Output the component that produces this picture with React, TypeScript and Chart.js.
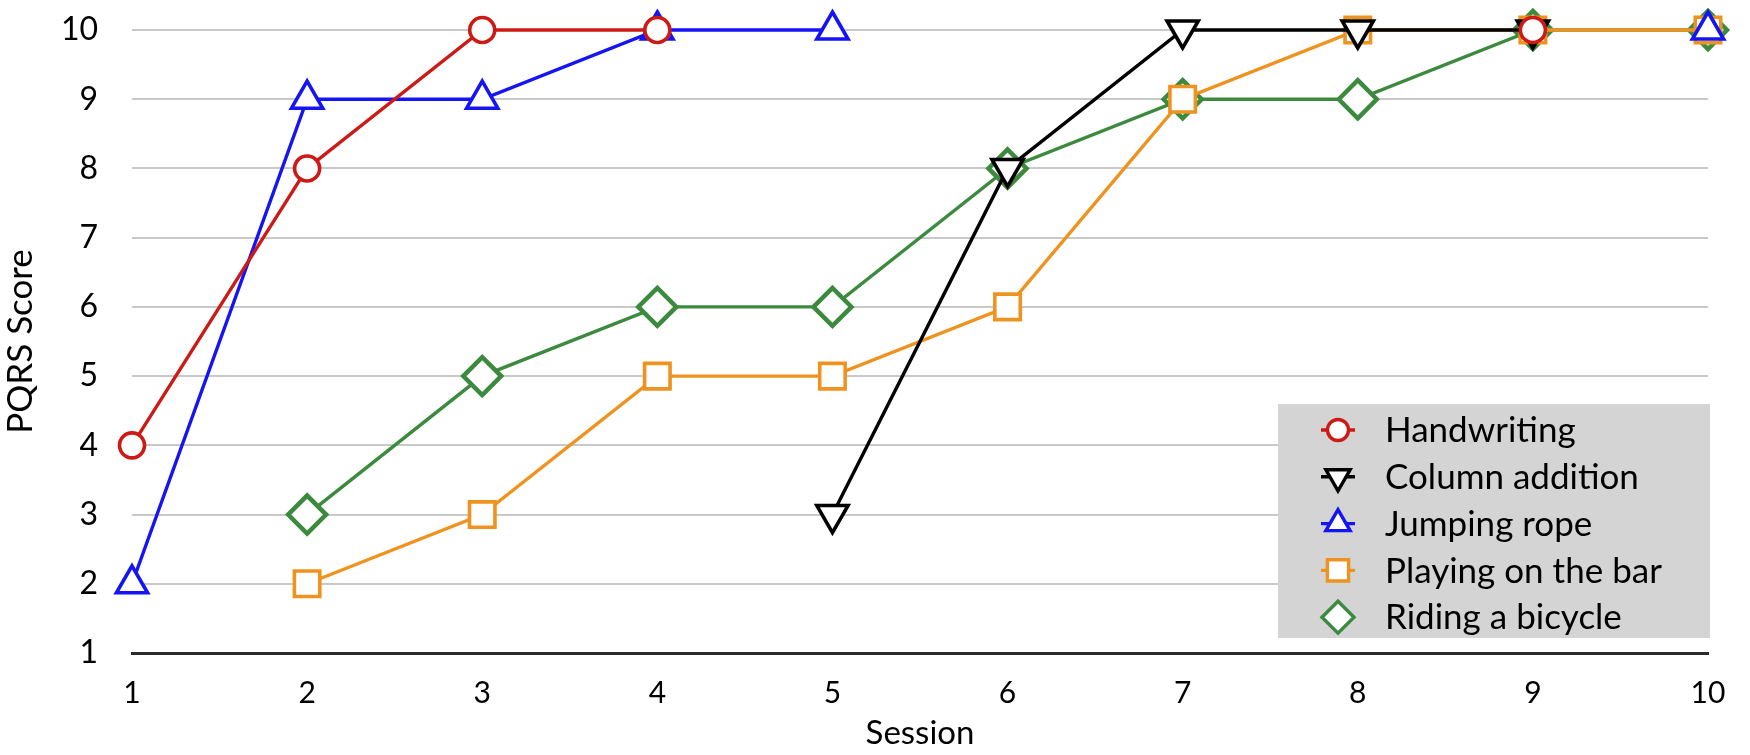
import React, { useEffect, useRef } from 'react';
import { Chart, registerables } from 'chart.js';

Chart.register(...registerables);

const sessions = ['1', '2', '3', '4', '5', '6', '7', '8', '9', '10'];
const handwriting = [4, 8, 10, 10, null, null, null, null, 10, null];
const columnAddition = [null, null, null, null, 3, 8, 10, 10, 10, null];
const jumpingRope = [2, 9, 9, 10, 10, null, null, null, null, 10];
const playingOnBar = [null, 2, 3, 5, 5, 6, 9, 10, 10, 10];
const ridingBicycle = [null, 3, 5, 6, 6, 8, 9, 9, 10, 10];
const seriesNames = ['Handwriting', 'Column addition', 'Jumping rope', 'Playing on the bar', 'Riding a bicycle'];
const seriesColors = ['#cc1a16', '#000000', '#1414f5', '#ef9320', '#3c8a3e'];
const yMin = 1;
const yMax = 10;

const FONT = 'Lato, "Open Sans", sans-serif';

function drawMarker(ctx: CanvasRenderingContext2D, style: string, rotation: number, x: number, y: number, r: number) {
  ctx.beginPath();
  if (style === 'circle') {
    ctx.arc(x, y, r, 0, Math.PI * 2);
  } else if (style === 'triangle') {
    const base = rotation === 180 ? Math.PI : 0;
    for (let i = 0; i < 3; i++) {
      const a = base + (i * 2 * Math.PI) / 3;
      const px = x + Math.sin(a) * r;
      const py = y - Math.cos(a) * r;
      if (i === 0) ctx.moveTo(px, py);
      else ctx.lineTo(px, py);
    }
    ctx.closePath();
  } else if (style === 'rect') {
    const s = r * Math.SQRT1_2;
    ctx.rect(x - s, y - s, 2 * s, 2 * s);
  } else if (style === 'rectRot') {
    ctx.moveTo(x - r, y);
    ctx.lineTo(x, y - r);
    ctx.lineTo(x + r, y);
    ctx.lineTo(x, y + r);
    ctx.closePath();
  }
  ctx.fillStyle = '#ffffff';
  ctx.fill();
  ctx.stroke();
}

const boxLegend = {
  id: 'boxLegend',
  afterDraw(chart: any) {
    const ctx: CanvasRenderingContext2D = chart.ctx;
    ctx.save();
    const x0 = 1278;
    const y0 = 404;
    const w = 432;
    const h = 234;
    ctx.fillStyle = '#d4d4d4';
    ctx.fillRect(x0, y0, w, h);
    const legendSizes = [10.5, 14, 14, 15, 16];
    chart.data.datasets.forEach((ds: any, i: number) => {
      const cy = 430 + i * 46.8;
      const cx = 1338;
      ctx.strokeStyle = ds.borderColor;
      ctx.lineWidth = 3.4;
      ctx.beginPath();
      ctx.moveTo(cx - 17, cy);
      ctx.lineTo(cx + 17, cy);
      ctx.stroke();
      drawMarker(ctx, ds.pointStyle, ds.pointRotation || 0, cx, cy, legendSizes[i]);
      ctx.fillStyle = '#000000';
      ctx.font = `35px ${FONT}`;
      ctx.textBaseline = 'middle';
      ctx.textAlign = 'left';
      ctx.fillText(ds.label, 1385, cy + 1);
    });
    ctx.restore();
  },
};

export default function App() {
  const canvasRef = useRef<HTMLCanvasElement | null>(null);

  useEffect(() => {
    if (!canvasRef.current) return;
    const common = {
      borderWidth: 3.4,
      pointBorderWidth: 3.6,
      pointBackgroundColor: '#ffffff',
      spanGaps: false,
      clip: false as any,
      tension: 0,
    };
    const chart = new Chart(canvasRef.current, {
      type: 'line',
      data: {
        labels: sessions,
        datasets: [
          { ...common, label: seriesNames[0], data: handwriting, borderColor: seriesColors[0], pointBorderColor: seriesColors[0], pointStyle: 'circle', pointRadius: 12.5 },
          { ...common, label: seriesNames[1], data: columnAddition, borderColor: seriesColors[1], pointBorderColor: seriesColors[1], pointStyle: 'triangle', pointRotation: 180, pointRadius: 18 },
          { ...common, label: seriesNames[2], data: jumpingRope, borderColor: seriesColors[2], pointBorderColor: seriesColors[2], pointStyle: 'triangle', pointRadius: 18 },
          { ...common, label: seriesNames[3], data: playingOnBar, borderColor: seriesColors[3], pointBorderColor: seriesColors[3], pointStyle: 'rect', pointRadius: 18 },
          { ...common, label: seriesNames[4], data: ridingBicycle, borderColor: seriesColors[4], pointBorderColor: seriesColors[4], pointStyle: 'rectRot', pointRadius: 19, pointBorderWidth: 4.5 },
        ],
      },
      options: {
        animation: false,
        responsive: true,
        maintainAspectRatio: false,
        layout: { padding: { top: 30, right: 42, bottom: 0, left: 0 } },
        plugins: {
          legend: { display: false },
          tooltip: { enabled: false },
        },
        scales: {
          x: {
            type: 'category',
            offset: false,
            grid: { display: false, drawTicks: false },
            border: { display: true, color: '#2a2a2a', width: 3 },
            ticks: { color: '#000', font: { family: FONT, size: 30 }, padding: 22, autoSkip: false, maxRotation: 0 },
            title: { display: true, text: 'Session', color: '#000', font: { family: FONT, size: 33 }, padding: { top: 0, bottom: 2 } },
            afterFit: (scale: any) => {
              scale.height = 102;
              scale.paddingLeft = 0;
              scale.paddingRight = 0;
            },
          },
          y: {
            min: yMin,
            max: yMax,
            grid: {
              drawTicks: false,
              lineWidth: 2,
              color: (c: any) => (c.tick && c.tick.value === yMin ? 'rgba(0,0,0,0)' : '#c9c9c9'),
            },
            border: { display: false },
            ticks: { stepSize: 1, color: '#000', font: { family: FONT, size: 32 }, padding: 34 },
            title: { display: true, text: 'PQRS Score', color: '#000', font: { family: FONT, size: 35 }, padding: { top: 0, bottom: 0 } },
            afterFit: (scale: any) => {
              scale.width = 132;
              scale.paddingTop = 0;
              scale.paddingBottom = 0;
            },
          },
        },
      },
      plugins: [boxLegend],
    });
    return () => chart.destroy();
  }, []);

  return (
    <div style={{ position: 'absolute', left: 0, top: 0, width: 1750, height: 755, background: '#ffffff' }}>
      <canvas ref={canvasRef} />
    </div>
  );
}
